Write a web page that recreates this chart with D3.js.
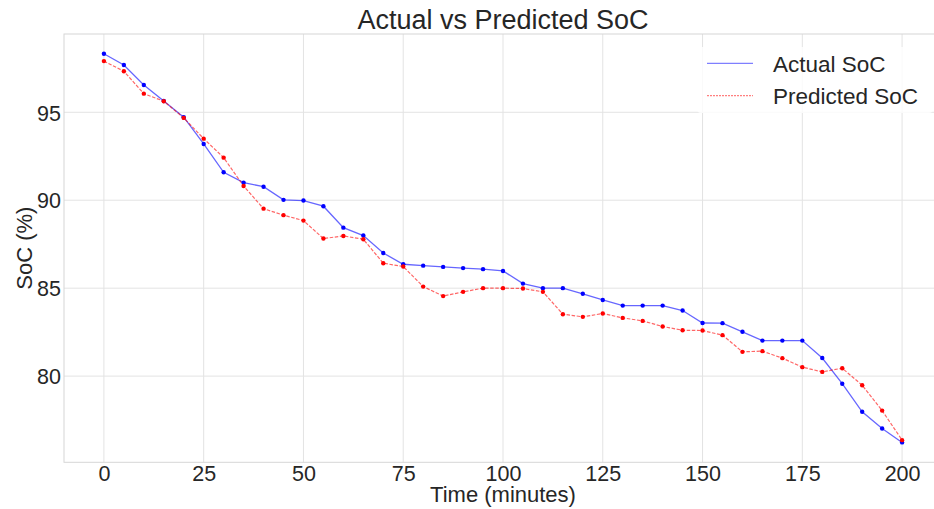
<!DOCTYPE html>
<html>
<head>
<meta charset="utf-8">
<script src="https://cdn.jsdelivr.net/npm/d3@7"></script>
<style>
  body { margin: 0; background: #fff; }
  text { font-family: "Liberation Sans", Arial, sans-serif; fill: #262626; }
</style>
</head>
<body>
<svg id="chart"></svg>
<script>
const minutes = [0, 5, 10, 15, 20, 25, 30, 35, 40, 45, 50, 55, 60, 65, 70, 75, 80, 85, 90, 95, 100,
  105, 110, 115, 120, 125, 130, 135, 140, 145, 150, 155, 160, 165, 170, 175, 180, 185, 190, 195, 200];

const actualSoc = [98.33, 97.69, 96.55, 95.64, 94.72, 93.2, 91.59, 91.0, 90.77, 90.02, 89.98,
  89.66, 88.44, 87.99, 87.0, 86.36, 86.28, 86.21, 86.14, 86.08, 85.98,
  85.26, 85.0, 85.0, 84.68, 84.33, 84.01, 84.01, 84.01, 83.73, 83.02,
  83.01, 82.52, 82.02, 82.02, 82.02, 81.03, 79.57, 77.97, 77.02, 76.23];

const predictedSoc = [97.91, 97.33, 96.06, 95.63, 94.68, 93.5, 92.42, 90.81, 89.52, 89.15, 88.84,
  87.82, 87.97, 87.78, 86.42, 86.23, 85.09, 84.55, 84.79, 85.0, 85.0,
  84.98, 84.79, 83.52, 83.37, 83.56, 83.31, 83.14, 82.82, 82.61, 82.59,
  82.33, 81.38, 81.42, 81.02, 80.51, 80.24, 80.45, 79.48, 78.04, 76.36];

const xTicks = [0, 25, 50, 75, 100, 125, 150, 175, 200];
const yTicks = [80, 85, 90, 95];

const width = 934, height = 509;
const svg = d3.select("#chart").attr("width", width).attr("height", height);

const plotLeft = 64, plotRight = 942, plotTop = 34, plotBottom = 462.3;

const x = d3.scaleLinear().domain([-10, 210]).range([plotLeft, plotRight]);
const y = d3.scaleLinear().domain([75.1, 99.45]).range([plotBottom, plotTop]);

// grid
const grid = svg.append("g");
grid.selectAll(".gx")
  .data(xTicks)
  .join("line")
  .attr("x1", d => x(d)).attr("x2", d => x(d))
  .attr("y1", plotTop).attr("y2", plotBottom)
  .attr("stroke", "#e3e3e3").attr("stroke-width", 1);
grid.selectAll(".gy")
  .data(yTicks)
  .join("line")
  .attr("x1", plotLeft).attr("x2", plotRight)
  .attr("y1", d => y(d)).attr("y2", d => y(d))
  .attr("stroke", "#e3e3e3").attr("stroke-width", 1);

// spines
svg.append("rect")
  .attr("x", plotLeft).attr("y", plotTop)
  .attr("width", plotRight - plotLeft).attr("height", plotBottom - plotTop)
  .attr("fill", "none").attr("stroke", "#d6d6d6").attr("stroke-width", 1);

// axes (labels only, seaborn whitegrid has no tick marks)
const xAxis = svg.append("g")
  .attr("transform", `translate(0, ${plotBottom})`)
  .call(d3.axisBottom(x).tickValues(xTicks).tickSize(0).tickPadding(3));
const yAxis = svg.append("g")
  .attr("transform", `translate(${plotLeft}, 0)`)
  .call(d3.axisLeft(y).tickValues(yTicks).tickSize(0).tickPadding(3));
[xAxis, yAxis].forEach(g => {
  g.select(".domain").remove();
  g.selectAll("text")
    .attr("font-size", "21.5px")
    .attr("font-family", "'Liberation Sans', Arial, sans-serif")
    .attr("fill", "#262626");
});
yAxis.selectAll("text").attr("dy", "0.36em");

// lines
const lineGen = vals => d3.line()
  .x((d, i) => x(minutes[i]))
  .y(d => y(d))(vals);

svg.append("path")
  .attr("d", lineGen(actualSoc))
  .attr("fill", "none")
  .attr("stroke", "blue")
  .attr("stroke-opacity", 0.6)
  .attr("stroke-width", 1.3);

svg.append("path")
  .attr("d", lineGen(predictedSoc))
  .attr("fill", "none")
  .attr("stroke", "red")
  .attr("stroke-opacity", 0.6)
  .attr("stroke-width", 1.2)
  .attr("stroke-dasharray", "3.5,1.6");

svg.append("g").selectAll("circle")
  .data(actualSoc)
  .join("circle")
  .attr("cx", (d, i) => x(minutes[i]))
  .attr("cy", d => y(d))
  .attr("r", 2.2)
  .attr("fill", "blue");

svg.append("g").selectAll("circle")
  .data(predictedSoc)
  .join("circle")
  .attr("cx", (d, i) => x(minutes[i]))
  .attr("cy", d => y(d))
  .attr("r", 2.2)
  .attr("fill", "red");

// title and labels
svg.append("text")
  .attr("x", (plotLeft + plotRight) / 2)
  .attr("y", 29)
  .attr("text-anchor", "middle")
  .attr("font-size", "27px")
  .text("Actual vs Predicted SoC");

svg.append("text")
  .attr("x", (plotLeft + plotRight) / 2)
  .attr("y", 502)
  .attr("text-anchor", "middle")
  .attr("font-size", "22px")
  .text("Time (minutes)");

svg.append("text")
  .attr("transform", `translate(32, ${(plotTop + plotBottom) / 2}) rotate(-90)`)
  .attr("text-anchor", "middle")
  .attr("font-size", "22px")
  .text("SoC (%)");

// legend
const legend = svg.append("g");
legend.append("rect")
  .attr("x", 697).attr("y", 47)
  .attr("width", 236).attr("height", 66)
  .attr("rx", 4)
  .attr("fill", "#fff").attr("fill-opacity", 0.8);

const legendItems = [
  { label: "Actual SoC", color: "blue", dash: null, ly: 63.3 },
  { label: "Predicted SoC", color: "red", dash: "2,1", ly: 95.7 }
];
legendItems.forEach(item => {
  legend.append("line")
    .attr("x1", 707).attr("x2", 753)
    .attr("y1", item.ly).attr("y2", item.ly)
    .attr("stroke", item.color)
    .attr("stroke-opacity", 0.5)
    .attr("stroke-width", 1.2)
    .attr("stroke-dasharray", item.dash);
  legend.append("text")
    .attr("x", 773)
    .attr("y", item.ly + 8.5)
    .attr("font-size", "22.5px")
    .text(item.label);
});
</script>
</body>
</html>
